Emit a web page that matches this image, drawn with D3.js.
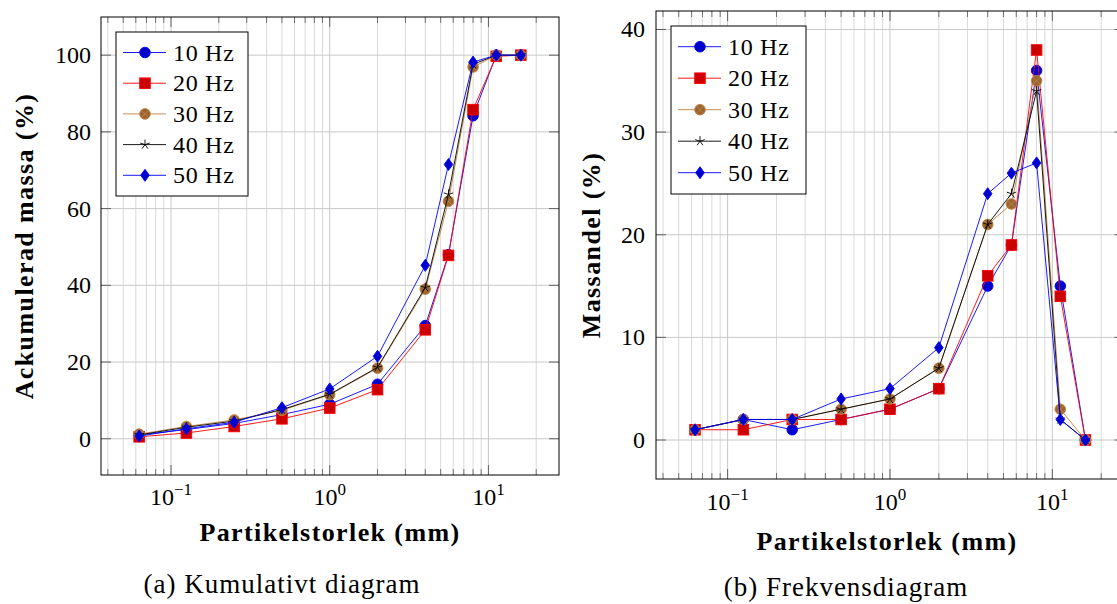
<!DOCTYPE html>
<html><head><meta charset="utf-8">
<script src="https://cdn.jsdelivr.net/npm/d3@7"></script>
<style>
body{margin:0;background:#fff;overflow:hidden}
text{font-family:"Liberation Serif","Times New Roman",serif;fill:#000}
</style>
</head><body>
<svg id="c" width="1117" height="604"></svg>
<script>
// ---------- data ----------
const sizes = [0.063, 0.125, 0.25, 0.5, 1, 2, 4, 5.6, 8, 11.2, 16];
const seriesNames = ["10 Hz", "20 Hz", "30 Hz", "40 Hz", "50 Hz"];

const cum10 = [1.0, 2.4, 4.0, 6.3, 9.0, 14.2, 29.5, 48.0, 84.2, 100, 100];
const cum20 = [0.5, 1.5, 3.2, 5.2, 8.0, 12.8, 28.4, 47.8, 85.8, 99.7, 100];
const cum30 = [1.2, 3.2, 4.9, 7.4, 11.5, 18.4, 39.0, 61.9, 96.9, 100, 100];
const cum40 = [1.0, 3.0, 4.6, 7.6, 11.6, 18.6, 39.4, 63.7, 97.6, 100, 100];
const cum50 = [0.7, 2.6, 4.3, 8.1, 13.0, 21.5, 45.2, 71.5, 98.2, 100, 100];

const freq10 = [1, 2, 1, 2, 3, 5, 15, 19, 36, 15, 0];
const freq20 = [1, 1, 2, 2, 3, 5, 16, 19, 38, 14, 0];
const freq30 = [1, 2, 2, 3, 4, 7, 21, 23, 35, 3, 0];
const freq40 = [1, 2, 2, 3, 4, 7, 21, 24, 34, 2, 0];
const freq50 = [1, 2, 2, 4, 5, 9, 24, 26, 27, 2, 0];

const cumYTicks = [0, 20, 40, 60, 80, 100];
const freqYTicks = [0, 10, 20, 30, 40];
const xTickExponents = [-1, 0, 1];

const cumTitleY = "Ackumulerad massa (%)";
const freqTitleY = "Massandel (%)";
const titleX = "Partikelstorlek (mm)";
const captionA = "(a) Kumulativt diagram";
const captionB = "(b) Frekvensdiagram";

// ---------- styles ----------
const styles = [
  {line: "#0000ff", fill: "#0000cc", stroke: "#0000ff", mark: "circle"},
  {line: "#ff0000", fill: "#cc0000", stroke: "#ff0000", mark: "square"},
  {line: "#bf8040", fill: "#996633", stroke: "#bf8040", mark: "otimes"},
  {line: "#000000", fill: "none", stroke: "#000000", mark: "star"},
  {line: "#0000ff", fill: "#0000cc", stroke: "#0000ff", mark: "diamond"}
];

const svg = d3.select("#c");

function drawMarker(g, type, cx, cy, st) {
  const r = 5.3;
  if (type === "circle") {
    g.append("circle").attr("cx", cx).attr("cy", cy).attr("r", r)
      .attr("fill", st.fill).attr("stroke", st.stroke).attr("stroke-width", 0.9);
  } else if (type === "square") {
    g.append("rect").attr("x", cx - r).attr("y", cy - r).attr("width", 2 * r).attr("height", 2 * r)
      .attr("fill", st.fill).attr("stroke", st.stroke).attr("stroke-width", 0.9);
  } else if (type === "otimes") {
    g.append("circle").attr("cx", cx).attr("cy", cy).attr("r", r)
      .attr("fill", st.fill).attr("stroke", st.stroke).attr("stroke-width", 0.9);
    const d = r * 0.7;
    g.append("path").attr("d", `M${cx-d},${cy-d}L${cx+d},${cy+d}M${cx-d},${cy+d}L${cx+d},${cy-d}`)
      .attr("stroke", st.stroke).attr("stroke-width", 0.9).attr("fill", "none");
  } else if (type === "star") {
    let p = "";
    for (let k = 0; k < 5; k++) {
      const a = -Math.PI / 2 + k * 2 * Math.PI / 5;
      p += `M${cx},${cy}L${cx + 5 * Math.cos(a)},${cy + 5 * Math.sin(a)}`;
    }
    g.append("path").attr("d", p).attr("stroke", "#000").attr("stroke-width", 0.9).attr("fill", "none");
  } else if (type === "diamond") {
    const w = 4.3, h = 6;
    g.append("path").attr("d", `M${cx},${cy-h}L${cx+w},${cy}L${cx},${cy+h}L${cx-w},${cy}Z`)
      .attr("fill", st.fill).attr("stroke", st.stroke).attr("stroke-width", 0.9);
  }
}

function drawPanel(cfg) {
  const g = svg.append("g");
  const lmin = Math.log10(d3.min(sizes)), lmax = Math.log10(d3.max(sizes));
  const lpad = 0.1 * (lmax - lmin);
  const x = d3.scaleLog().domain([Math.pow(10, lmin - lpad), Math.pow(10, lmax + lpad)])
    .range([cfg.x0, cfg.x1]);
  const all = cfg.series.flat();
  const vmin = d3.min(all), vmax = d3.max(all);
  const vpad = 0.1 * (vmax - vmin);
  const y = d3.scaleLinear().domain([vmin - vpad, vmax + vpad]).range([cfg.y1, cfg.y0]);

  const [dlo, dhi] = x.domain();
  const minor = [];
  for (let e = -3; e <= 2; e++) for (let k = 2; k <= 9; k++) {
    const v = k * Math.pow(10, e);
    if (v > dlo && v < dhi) minor.push(v);
  }
  const major = xTickExponents.map(e => Math.pow(10, e));

  // grid
  g.selectAll(".mg").data(minor).enter().append("line")
    .attr("x1", d => x(d)).attr("x2", d => x(d)).attr("y1", cfg.y0).attr("y2", cfg.y1)
    .attr("stroke", "#cfcfcf").attr("stroke-width", 0.8);
  g.selectAll(".Mg").data(major).enter().append("line")
    .attr("x1", d => x(d)).attr("x2", d => x(d)).attr("y1", cfg.y0).attr("y2", cfg.y1)
    .attr("stroke", "#c8c8c8").attr("stroke-width", 1);
  g.selectAll(".yg").data(cfg.yTicks).enter().append("line")
    .attr("x1", cfg.x0).attr("x2", cfg.x1).attr("y1", d => y(d)).attr("y2", d => y(d))
    .attr("stroke", "#c8c8c8").attr("stroke-width", 1);

  // ticks
  const tk = "#555";
  minor.forEach(v => {
    g.append("line").attr("x1", x(v)).attr("x2", x(v)).attr("y1", cfg.y1).attr("y2", cfg.y1 - 6)
      .attr("stroke", tk).attr("stroke-width", 0.8);
    g.append("line").attr("x1", x(v)).attr("x2", x(v)).attr("y1", cfg.y0).attr("y2", cfg.y0 + 6)
      .attr("stroke", tk).attr("stroke-width", 0.8);
  });
  major.forEach(v => {
    g.append("line").attr("x1", x(v)).attr("x2", x(v)).attr("y1", cfg.y1).attr("y2", cfg.y1 - 10)
      .attr("stroke", tk).attr("stroke-width", 0.9);
    g.append("line").attr("x1", x(v)).attr("x2", x(v)).attr("y1", cfg.y0).attr("y2", cfg.y0 + 10)
      .attr("stroke", tk).attr("stroke-width", 0.9);
  });
  cfg.yTicks.forEach(v => {
    g.append("line").attr("x1", cfg.x0).attr("x2", cfg.x0 + 10).attr("y1", y(v)).attr("y2", y(v))
      .attr("stroke", tk).attr("stroke-width", 0.9);
    g.append("line").attr("x1", cfg.x1).attr("x2", cfg.x1 - 10).attr("y1", y(v)).attr("y2", y(v))
      .attr("stroke", tk).attr("stroke-width", 0.9);
  });

  // frame
  g.append("rect").attr("x", cfg.x0).attr("y", cfg.y0)
    .attr("width", cfg.x1 - cfg.x0).attr("height", cfg.y1 - cfg.y0)
    .attr("fill", "none").attr("stroke", "#000").attr("stroke-width", 1);

  // series
  const line = d3.line().x(d => x(d[0])).y(d => y(d[1]));
  cfg.series.forEach((vals, i) => {
    const st = styles[i];
    const pts = sizes.map((s, j) => [s, vals[j]]);
    const sg = g.append("g");
    sg.append("path").attr("d", line(pts)).attr("fill", "none")
      .attr("stroke", st.line).attr("stroke-width", 0.9);
    pts.forEach(p => drawMarker(sg, st.mark, x(p[0]), y(p[1]), st));
  });

  // y tick labels
  cfg.yTicks.forEach(v => {
    g.append("text").attr("x", cfg.ytickX).attr("y", y(v) + 8)
      .attr("text-anchor", "end").attr("font-size", 24).text(v);
  });
  // x tick labels
  major.forEach((v, i) => {
    const t = g.append("text").attr("x", x(v)).attr("y", cfg.xtickY)
      .attr("text-anchor", "middle").attr("font-size", 24);
    t.append("tspan").text("10");
    t.append("tspan").attr("dy", -10).attr("font-size", 17)
      .text(String(xTickExponents[i]).replace("-", "\u2212"));
  });

  // axis titles
  g.append("text").attr("x", cfg.xlabelX).attr("y", cfg.xlabelY)
    .attr("text-anchor", "middle").attr("font-size", 26).attr("font-weight", "bold")
    .attr("letter-spacing", 1.4).text(titleX);
  g.append("text")
    .attr("transform", `translate(${cfg.ylabelX},${(cfg.y0 + cfg.y1) / 2}) rotate(-90)`)
    .attr("text-anchor", "middle").attr("font-size", 26).attr("font-weight", "bold")
    .attr("letter-spacing", 1.4).text(cfg.ylabel);
  // caption
  g.append("text").attr("x", cfg.capX).attr("y", cfg.capY)
    .attr("text-anchor", "middle").attr("font-size", 27).attr("letter-spacing", 1)
    .text(cfg.caption);

  // legend
  const L = cfg.legend;
  const lg = g.append("g");
  lg.append("rect").attr("x", L.x).attr("y", L.y).attr("width", L.w).attr("height", L.h)
    .attr("fill", "#fff").attr("stroke", "#000").attr("stroke-width", 1);
  seriesNames.forEach((name, i) => {
    const st = styles[i];
    const cy = L.y + L.first + i * L.step;
    lg.append("line").attr("x1", L.x + 7).attr("x2", L.x + 50).attr("y1", cy).attr("y2", cy)
      .attr("stroke", st.line).attr("stroke-width", 0.9);
    drawMarker(lg, st.mark, L.x + 29, cy, st);
    lg.append("text").attr("x", L.x + 57).attr("y", cy + 8).attr("font-size", 24)
      .attr("letter-spacing", 0.7).text(name);
  });
}

drawPanel({
  x0: 101, x1: 559, y0: 17, y1: 475,
  series: [cum10, cum20, cum30, cum40, cum50],
  yTicks: cumYTicks, ylabel: cumTitleY,
  ytickX: 91, xtickY: 505, xlabelX: 330, xlabelY: 541, ylabelX: 33,
  caption: captionA, capX: 282, capY: 593,
  legend: {x: 116, y: 32, w: 132, h: 164, first: 20.5, step: 30.7}
});

drawPanel({
  x0: 656, x1: 1124.5, y0: 11, y1: 479,
  series: [freq10, freq20, freq30, freq40, freq50],
  yTicks: freqYTicks, ylabel: freqTitleY,
  ytickX: 645, xtickY: 510, xlabelX: 887, xlabelY: 550, ylabelX: 600,
  caption: captionB, capX: 846, capY: 596,
  legend: {x: 671, y: 26, w: 135, h: 168, first: 20.7, step: 31.5}
});
</script>
</body></html>
